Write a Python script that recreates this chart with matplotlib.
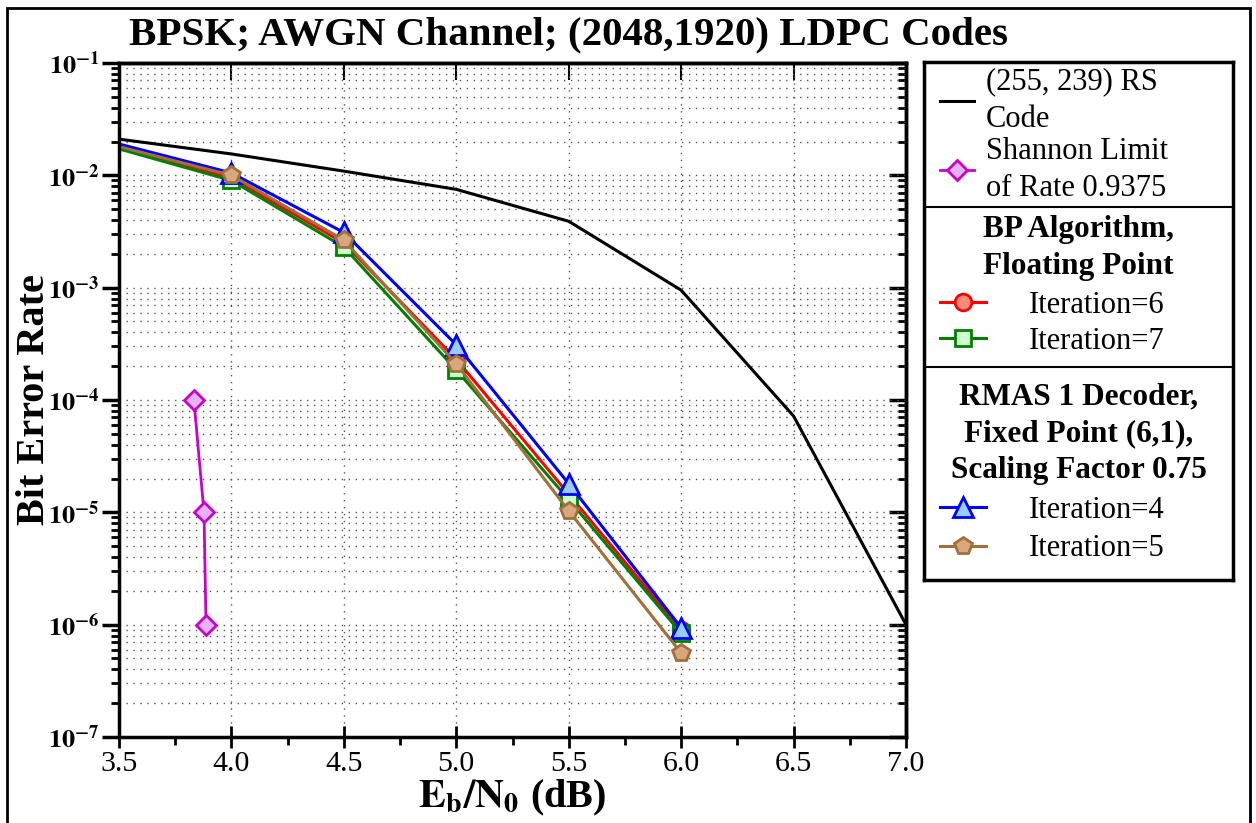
import numpy as np
import matplotlib.pyplot as plt
from matplotlib.patches import Rectangle
from matplotlib.ticker import FixedLocator, LogLocator, FuncFormatter, NullFormatter

plt.rcParams['font.family'] = ['Liberation Serif', 'DejaVu Serif']
plt.rcParams['mathtext.fontset'] = 'stix'

# données
snr_rs = [3.5, 4.0, 4.5, 5.0, 5.5, 6.0, 6.5, 7.0]
ber_rs = [0.021, 0.0155, 0.0109, 0.0075, 0.0039, 0.00095, 7.2e-5, 1.0e-6]

snr_shannon = [3.833, 3.878, 3.887]
ber_shannon = [1e-4, 1e-5, 1e-6]

snr_ldpc = [3.5, 4.0, 4.5, 5.0, 5.5, 6.0]
ber_bp_it6 = [0.018, 0.0095, 0.0025, 2.3e-4, 1.45e-5, 9.0e-7]
ber_bp_it7 = [0.0172, 0.0090, 0.0023, 1.85e-4, 1.3e-5, 8.4e-7]
ber_rmas_it4 = [0.019, 0.0105, 0.0031, 3.1e-4, 1.8e-5, 9.4e-7]
ber_rmas_it5 = [0.018, 0.0100, 0.00265, 2.1e-4, 1.03e-5, 5.6e-7]

titre_bp = 'BP Algorithm,\nFloating Point'
titre_rmas = 'RMAS 1 Decoder,\nFixed Point (6,1),\nScaling Factor 0.75'

fig = plt.figure(figsize=(12.56, 8.23), dpi=100)
ax = fig.add_axes([119 / 1256, 1 - 737 / 823, (906 - 119) / 1256, (737 - 63) / 823])

ms = 12
ax.plot(snr_rs, ber_rs, color='black', lw=2.2, label='(255, 239) RS\nCode')
ax.plot(snr_shannon, ber_shannon, color='#cc00cc', lw=2, marker='D', ms=10,
        mfc='#e6b3f5', mec='#cc00cc', mew=2, label='Shannon Limit\nof Rate 0.9375')
ax.plot(snr_ldpc, ber_bp_it6, color='red', lw=2.2, marker='o', ms=ms, markevery=slice(1, None),
        mfc='#ff8c7a', mec='red', mew=2, label='Iteration=6')
ax.plot(snr_ldpc, ber_bp_it7, color='green', lw=2.2, marker='s', ms=ms - 1, markevery=slice(1, None),
        mfc='#ccffcc', mec='green', mew=2, label='Iteration=7')
ax.plot(snr_ldpc, ber_rmas_it4, color='blue', lw=2.2, marker='^', ms=ms + 2, markevery=slice(1, None),
        mfc='#99ccff', mec='blue', mew=2, label='Iteration=4')
ax.plot(snr_ldpc, ber_rmas_it5, color='#a0703a', lw=2.2, marker='p', ms=ms + 1, markevery=slice(1, None),
        mfc='#d9a77e', mec='#a0703a', mew=2, label='Iteration=5')

ax.set_yscale('log')
ax.set_xlim(3.5, 7.0)
ax.set_ylim(1e-7, 1e-1)
xmaj = np.arange(3.5, 7.01, 0.5)
xmin = np.arange(3.75, 7.0, 0.5)
ax.xaxis.set_major_locator(FixedLocator(xmaj))
ax.xaxis.set_minor_locator(FixedLocator(xmin))
ax.xaxis.set_major_formatter(FuncFormatter(lambda v, p: f'{v:.1f}'))
ax.yaxis.set_major_locator(LogLocator(base=10, numticks=10))
ax.yaxis.set_minor_locator(LogLocator(base=10, subs=np.arange(2, 10), numticks=20))
ax.yaxis.set_minor_formatter(NullFormatter())
ax.yaxis.set_major_formatter(FuncFormatter(lambda v, p: r'$\mathbf{10^{%d}}$' % round(np.log10(v))))

ax.tick_params(axis='x', which='major', direction='inout', length=16, width=2, labelsize=21.5, pad=2)
ax.tick_params(axis='x', which='minor', direction='out', length=6, width=2)
ax.tick_params(axis='y', which='major', direction='out', length=12, width=2.5, labelsize=19, pad=2)
ax.tick_params(axis='y', which='minor', direction='out', length=6, width=2)

# ticks intérieurs en haut et à droite
top = ax.secondary_xaxis('top')
top.xaxis.set_major_locator(FixedLocator(xmaj))
top.tick_params(direction='in', length=12, width=1.5, labeltop=False)
right = ax.secondary_yaxis('right')
right.yaxis.set_major_locator(LogLocator(base=10, numticks=10))
right.yaxis.set_minor_locator(LogLocator(base=10, subs=np.arange(2, 10), numticks=20))
right.tick_params(which='major', direction='in', length=12, width=2.5, labelright=False)
right.tick_params(which='minor', direction='in', length=6, width=2, labelright=False)
for a in (top, right):
    for s in a.spines.values():
        s.set_linewidth(2.5)

ax.grid(True, which='major', axis='both', color='#555555', ls=(0, (1, 4)), lw=1)
ax.grid(True, which='minor', axis='y', color='#555555', ls=(0, (1, 4)), lw=1)
for s in ax.spines.values():
    s.set_linewidth(2.5)

ax.set_xlabel(r'$\mathbf{E_b/N_0}$ (dB)', fontsize=29, fontweight='bold')
ax.xaxis.set_label_coords(0.5, -0.06)
ax.set_ylabel('Bit Error Rate', fontsize=29, fontweight='bold')
ax.yaxis.set_label_coords(-0.084, 0.5)
fig.text((127 + 1010) / 2 / 1256, 1 - 35 / 823, 'BPSK; AWGN Channel; (2048,1920) LDPC Codes',
         ha='center', va='center', fontsize=29.5, fontweight='bold')

# légende en trois blocs
lax = fig.add_axes([924 / 1256, 1 - 580 / 823, (1233 - 924) / 1256, (580 - 62) / 823])
lax.set_xticks([])
lax.set_yticks([])
lax.set_xlim(0, 1)
lax.set_ylim(0, 1)
for s in lax.spines.values():
    s.set_linewidth(2.5)
lax.axhline(0.720, color='black', lw=1.5)
lax.axhline(0.411, color='black', lw=1.5)

lax.text(0.5, 0.705, titre_bp, ha='center', va='top', fontsize=22.5, fontweight='bold',
         linespacing=1.36)
lax.text(0.5, 0.382, titre_rmas, ha='center', va='top', fontsize=22.5, fontweight='bold',
         linespacing=1.36)

h = ax.get_lines()
leg_kw = dict(frameon=False, fontsize=22, borderpad=0, borderaxespad=0, loc='upper left')
l1 = lax.legend(h[:2], [l.get_label() for l in h[:2]], bbox_to_anchor=(0.052, 0.99),
                handlelength=1.1, handletextpad=0.4, labelspacing=0.1, **leg_kw)
for t in l1.get_texts():
    t.set_linespacing(1.38)
l2 = lax.legend(h[2:4], [l.get_label() for l in h[2:4]], bbox_to_anchor=(0.052, 0.558),
                handlelength=1.5, handletextpad=1.4, labelspacing=0.22, **leg_kw)
l3 = lax.legend(h[4:6], [l.get_label() for l in h[4:6]], bbox_to_anchor=(0.052, 0.162),
                handlelength=1.5, handletextpad=1.4, labelspacing=0.3, **leg_kw)
lax.add_artist(l1)
lax.add_artist(l2)

# cadre extérieur
fig.patches.append(Rectangle((7 / 1256, -0.01), (1250 - 7) / 1256, 1.0, transform=fig.transFigure,
                             fill=False, lw=2, ec='black'))

fig.savefig('out.png', dpi=100)
